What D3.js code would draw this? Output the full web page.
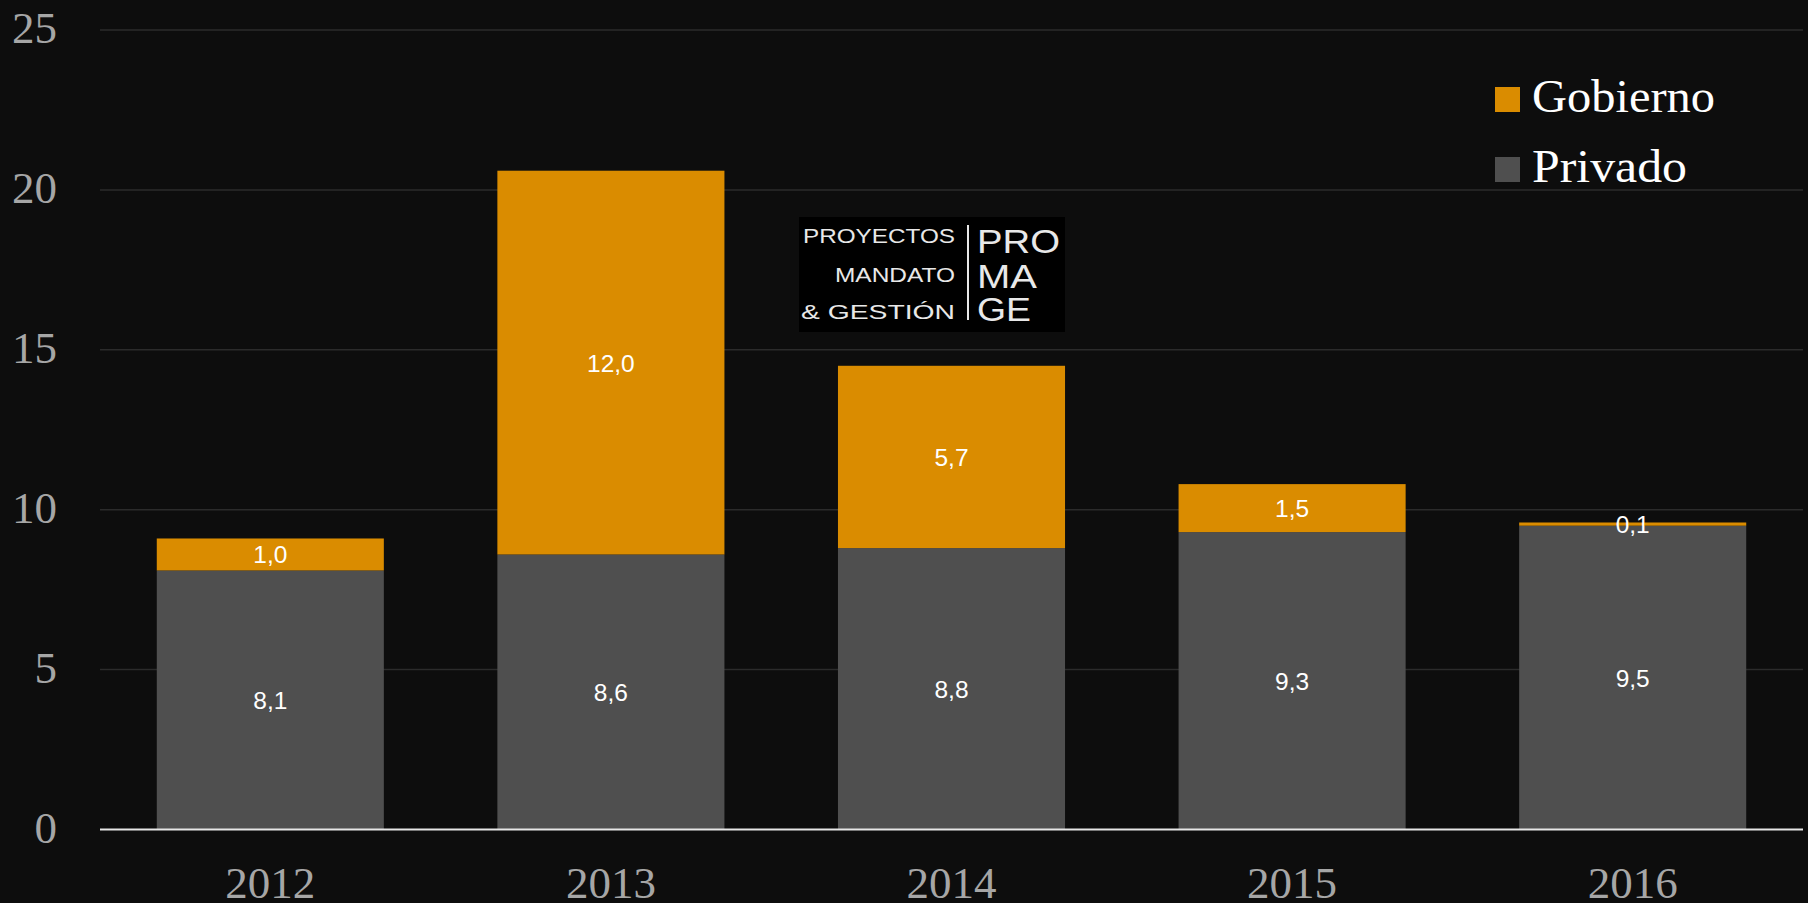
<!DOCTYPE html>
<html>
<head>
<meta charset="utf-8">
<script src="https://cdn.jsdelivr.net/npm/d3@7"></script>
<style>
  html, body { margin: 0; padding: 0; background: #0d0d0d; }
  svg { display: block; }
</style>
</head>
<body>
<svg id="chart" width="1808" height="903"></svg>
<script>
// datos
const years = ['2012', '2013', '2014', '2015', '2016'];
const privado = [8.1, 8.6, 8.8, 9.3, 9.5];
const gobierno = [1.0, 12.0, 5.7, 1.5, 0.1];
const yTicks = [0, 5, 10, 15, 20, 25];
const seriesNames = ['Gobierno', 'Privado'];
const colores = { Privado: '#4f4f4f', Gobierno: '#da8c00' };

const width = 1808, height = 903;
const margin = { top: 30, right: 5, bottom: 73.5, left: 100 };

const svg = d3.select('#chart');
svg.append('rect').attr('width', width).attr('height', height).attr('fill', '#0d0d0d');

const x = d3.scaleBand()
  .domain(years)
  .range([margin.left, width - margin.right])
  .paddingInner(1 / 3)
  .paddingOuter(1 / 6);

const y = d3.scaleLinear()
  .domain([0, 25])
  .range([height - margin.bottom, margin.top]);

// grid
svg.append('g')
  .selectAll('line')
  .data(yTicks.filter(d => d > 0))
  .join('line')
  .attr('x1', margin.left)
  .attr('x2', width - margin.right)
  .attr('y1', d => y(d))
  .attr('y2', d => y(d))
  .attr('stroke', '#2b2b2b')
  .attr('stroke-width', 1.5);

// y labels
svg.append('g')
  .selectAll('text')
  .data(yTicks)
  .join('text')
  .attr('x', 57)
  .attr('y', d => y(d) + 13)
  .attr('text-anchor', 'end')
  .attr('fill', '#a6a6a6')
  .style('font-family', '"Liberation Serif", serif')
  .style('font-size', '45px')
  .text(d => d);

// apilado
const rows = years.map((yr, i) => ({ year: yr, Privado: privado[i], Gobierno: gobierno[i] }));
const stack = d3.stack().keys(['Privado', 'Gobierno']);
const stacked = stack(rows);

const fmt = v => d3.format('.1f')(v).replace('.', ',');

stacked.forEach(serie => {
  const g = svg.append('g');
  g.selectAll('rect')
    .data(serie)
    .join('rect')
    .attr('x', d => x(d.data.year))
    .attr('width', x.bandwidth())
    .attr('y', d => y(d[1]))
    .attr('height', d => y(d[0]) - y(d[1]))
    .attr('fill', colores[serie.key]);
});

stacked.forEach(serie => {
  svg.append('g')
    .selectAll('text')
    .data(serie)
    .join('text')
    .attr('x', d => x(d.data.year) + x.bandwidth() / 2)
    .attr('y', d => (y(d[0]) + y(d[1])) / 2 + 9)
    .attr('text-anchor', 'middle')
    .attr('fill', '#ffffff')
    .style('font-family', '"Liberation Sans", Arial, sans-serif')
    .style('font-size', '24.5px')
    .text(d => fmt(d.data[serie.key]));
});

// eje base
svg.append('line')
  .attr('x1', margin.left)
  .attr('x2', width - margin.right)
  .attr('y1', y(0))
  .attr('y2', y(0))
  .attr('stroke', '#e6e6e6')
  .attr('stroke-width', 2);

// x labels
svg.append('g')
  .selectAll('text')
  .data(years)
  .join('text')
  .attr('x', d => x(d) + x.bandwidth() / 2)
  .attr('y', 898)
  .attr('text-anchor', 'middle')
  .attr('fill', '#a6a6a6')
  .style('font-family', '"Liberation Serif", serif')
  .style('font-size', '45px')
  .text(d => d);

// leyenda
const legend = svg.append('g').attr('transform', 'translate(1495, 87)');
seriesNames.forEach((name, i) => {
  legend.append('rect')
    .attr('x', 0)
    .attr('y', i * 70)
    .attr('width', 25)
    .attr('height', 25)
    .attr('fill', colores[name]);
  legend.append('text')
    .attr('x', 37)
    .attr('y', i * 70 + 25)
    .attr('fill', '#ffffff')
    .style('font-family', '"Liberation Serif", serif')
    .style('font-size', '46px')
    .attr('textLength', name === 'Gobierno' ? 183 : 155)
    .attr('lengthAdjust', 'spacingAndGlyphs')
    .text(name);
});

// logo
const logo = svg.append('g');
logo.append('rect')
  .attr('x', 799).attr('y', 217).attr('width', 266).attr('height', 115)
  .attr('fill', '#000000');
const logoLeft = [['PROYECTOS', 243, 152], ['MANDATO', 282, 120], ['& GESTIÓN', 319, 154]];
logoLeft.forEach(([t, yy, len]) => {
  logo.append('text')
    .attr('x', 955).attr('y', yy)
    .attr('text-anchor', 'end')
    .attr('fill', '#e8e8e8')
    .style('font-family', '"Liberation Sans", Arial, sans-serif')
    .style('font-size', '20px')
    .attr('textLength', len)
    .attr('lengthAdjust', 'spacingAndGlyphs')
    .text(t);
});
logo.append('line')
  .attr('x1', 968).attr('x2', 968).attr('y1', 225).attr('y2', 320)
  .attr('stroke', '#e8e8e8').attr('stroke-width', 2);
const logoRight = [['PRO', 253, 83], ['MA', 288, 60], ['GE', 321, 54]];
logoRight.forEach(([t, yy, len]) => {
  logo.append('text')
    .attr('x', 977).attr('y', yy)
    .attr('fill', '#e8e8e8')
    .style('font-family', '"Liberation Sans", Arial, sans-serif')
    .style('font-size', '33px')
    .attr('textLength', len)
    .attr('lengthAdjust', 'spacingAndGlyphs')
    .text(t);
});
</script>
</body>
</html>
